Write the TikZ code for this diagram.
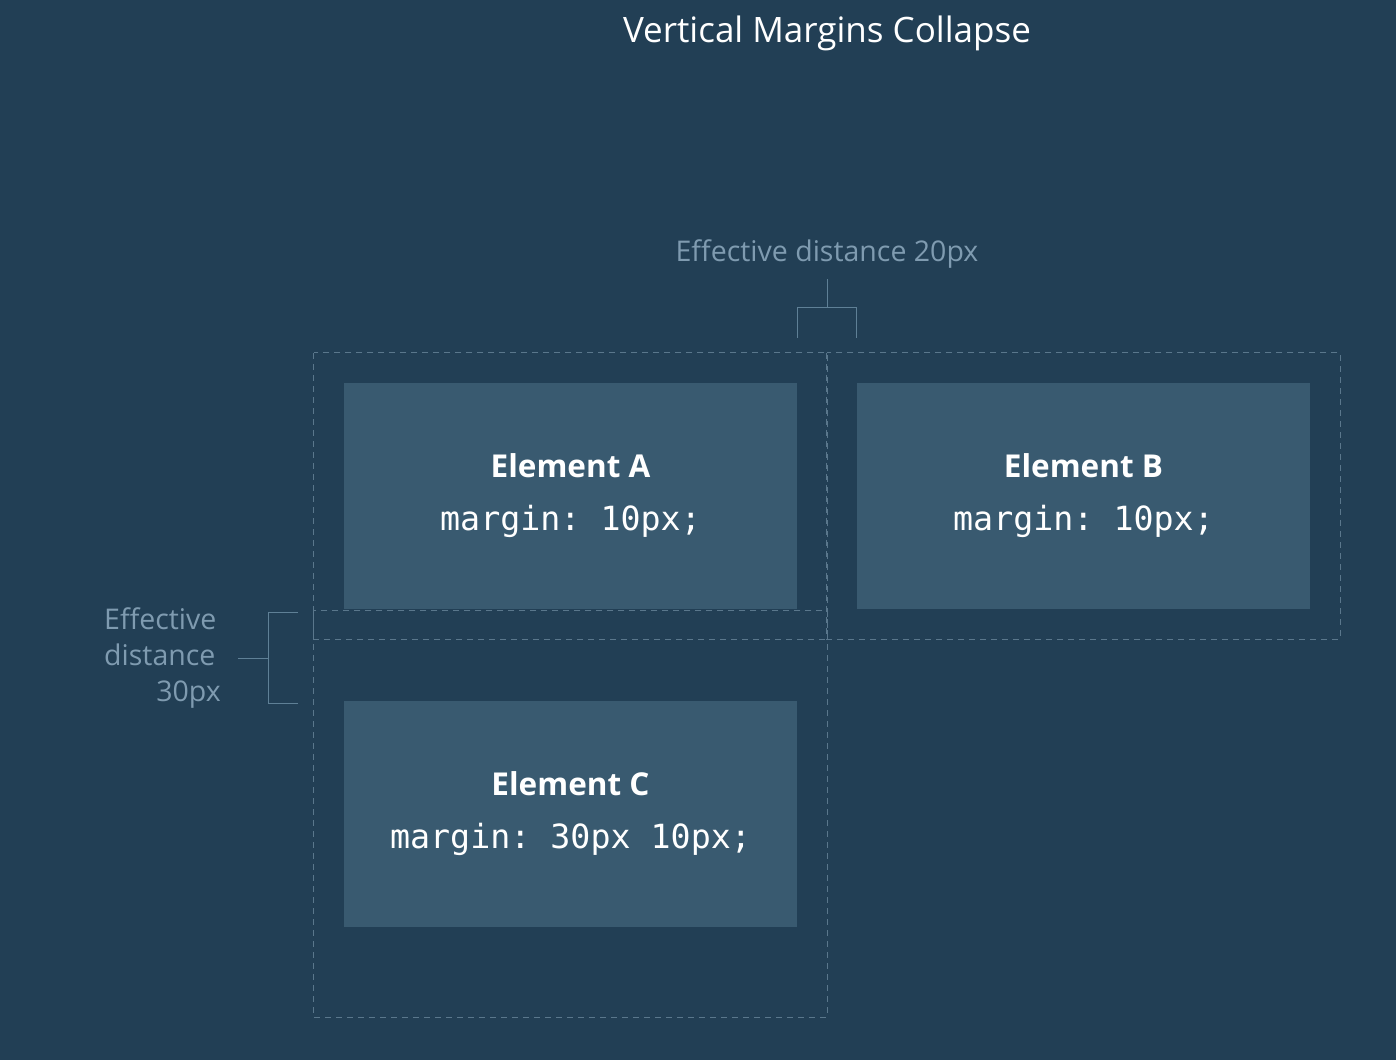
\documentclass[tikz,border=0pt]{standalone}
\usepackage{fontspec}
\setmainfont{Open Sans}
\setmonofont{DejaVu Sans Mono}
\usetikzlibrary{calc}
\usetikzlibrary{positioning}
\definecolor{bgblue}{HTML}{223F55}
\definecolor{boxblue}{HTML}{395A70}
\definecolor{dashgray}{HTML}{5A778C}
\definecolor{linegray}{HTML}{5F8096}
\definecolor{labelgray}{HTML}{7F9BB0}

\begin{document}
\begin{tikzpicture}[x=1pt,y=-1pt,inner sep=0pt,
  elem/.style={fill=boxblue,minimum width=453pt,minimum height=226pt,text=white,align=center,font=\fontsize{31.5}{53}\selectfont},
  marginbox/.style={draw=dashgray,line width=1pt,dash pattern=on 6pt off 5pt},
  bracket/.style={draw=linegray,line width=1pt},
  lbl/.style={text=labelgray,font=\fontsize{28.5}{36}\selectfont}]
\fill [bgblue] (0,0) rectangle (1396,1060);
\useasboundingbox (0,0) rectangle (1396,1060);
\draw node [text=white,font=\fontsize{35}{40}\selectfont,anchor=base] (title) at (827,42) {Vertical Margins Collapse};
% elements
\draw node [elem] (A) at (570.5,496) {\textbf{Element A}\\\texttt{\fontsize{33.3}{53}\selectfont margin: 10px;}};
\draw node [elem] (B) at (1083.5,496) {\textbf{Element B}\\\texttt{\fontsize{33.3}{53}\selectfont margin: 10px;}};
\draw node [elem] (C) at (570.5,814) {\textbf{Element C}\\\texttt{\fontsize{33.3}{53}\selectfont margin: 30px 10px;}};
% margins
\draw [marginbox] ($ (A.north west) + (-30,-30) $) rectangle ($ (A.south east) + (30,30) $);
\draw [marginbox] ($ (B.north west) + (-30,-30) $) rectangle ($ (B.south east) + (30,30) $);
\draw [marginbox] ($ (C.north west) + (-30,-90) $) rectangle ($ (C.south east) + (30,90) $);
% top bracket
\draw node [lbl,anchor=base] (D20) at (827,261) {Effective distance 20px};
\coordinate (T1) at ($ (A.north east) + (0,-45) $);
\coordinate (T2) at ($ (B.north west) + (0,-45) $);
\coordinate (T0) at (827,279);
\draw [bracket] (T1) -- ++(0,-30) -- ($ (T2) + (0,-30) $) -- (T2);
\draw [bracket] (T0) -- (T0 |- 0,308);
% left bracket
\draw node [lbl,anchor=base west] (D30a) at (104,629) {Effective};
\draw node [lbl,anchor=base west] (D30b) at (104,665) {distance};
\draw node [lbl,anchor=base east] (D30c) at (221,701) {30px};
\coordinate (L1) at (298,612);
\coordinate (L2) at (298,703);
\coordinate (L0) at (238,658);
\draw [bracket] (L1) -- ++(-30,0) -- ($ (L2) + (-30,0) $) -- (L2);
\draw [bracket] (L0) -- ++(30,0);
\end{tikzpicture}
\end{document}
